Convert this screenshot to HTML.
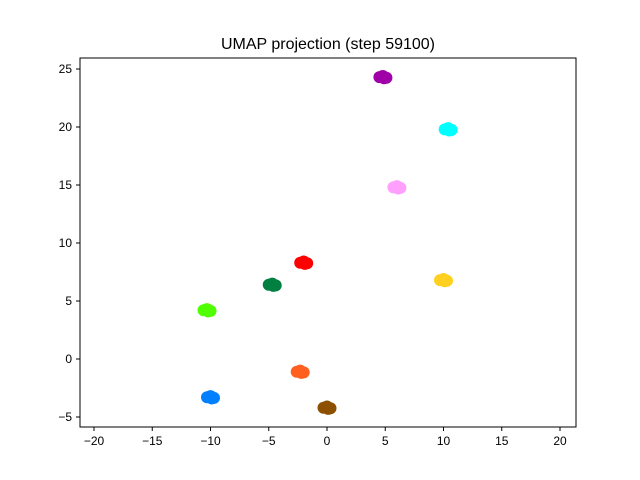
<!DOCTYPE html>
<html><head><meta charset="utf-8"><style>body{margin:0;background:#fff}svg{display:block;font-family:"Liberation Sans",sans-serif}</style></head>
<body>
<svg id="chart" width="640" height="480">
<rect width="640" height="480" fill="#fff"/>
<text x="328" y="49" font-size="16" text-anchor="middle">UMAP projection (step 59100)</text>
<g id="pts"></g>
<rect x="80" y="58" width="496" height="369" fill="none" stroke="#000" stroke-width="1"/>
<g id="ax" font-size="12"></g>
</svg>
<script>
const xTicks=[-20,-15,-10,-5,0,5,10,15,20];
const yTicks=[-5,0,5,10,15,20,25];
const clusterX=[4.8,10.4,6.0,-2.0,-4.7,-10.3,10.0,-2.3,0.0,-10.0];
const clusterY=[24.3,19.8,14.8,8.3,6.4,4.2,6.8,-1.1,-4.2,-3.3];
const clusterColors=["#a000a8","#00ffff","#ffa0ff","#ff0000","#008040","#50ff00","#ffd020","#ff6020","#8c5000","#0080ff"];
const jitterX=[-0.3,0,0.3,0.1];
const jitterY=[0,0.1,-0.05,-0.1];
const sx=v=>327+v*11.65, sy=v=>359-v*11.6;
const NS="http://www.w3.org/2000/svg";
const pts=document.getElementById('pts'), ax=document.getElementById('ax');
clusterX.forEach((cx,i)=>{
  jitterX.forEach((jx,j)=>{
    const c=document.createElementNS(NS,'circle');
    c.setAttribute('cx',sx(cx+jx));c.setAttribute('cy',sy(clusterY[i]+jitterY[j]));
    c.setAttribute('r',6);c.setAttribute('fill',clusterColors[i]);
    
    
    pts.appendChild(c);
  });
});
xTicks.forEach(t=>{
  const x=sx(t);
  const l=document.createElementNS(NS,'line');
  l.setAttribute('x1',x);l.setAttribute('x2',x);l.setAttribute('y1',427);l.setAttribute('y2',431);l.setAttribute('stroke','#000');
  
  
  ax.appendChild(l);
  const tx=document.createElementNS(NS,'text');
  tx.setAttribute('x',x);tx.setAttribute('y',445);tx.setAttribute('text-anchor','middle');
  tx.textContent=t<0?'\u2212'+(-t):t;
  
  
  ax.appendChild(tx);
});
yTicks.forEach(t=>{
  const y=sy(t);
  const l=document.createElementNS(NS,'line');
  l.setAttribute('x1',76);l.setAttribute('x2',80);l.setAttribute('y1',y);l.setAttribute('y2',y);l.setAttribute('stroke','#000');
  
  
  ax.appendChild(l);
  const tx=document.createElementNS(NS,'text');
  tx.setAttribute('x',72);tx.setAttribute('y',y+4);tx.setAttribute('text-anchor','end');
  tx.textContent=t<0?'\u2212'+(-t):t;
  
  
  ax.appendChild(tx);
});
</script>
</body></html>
